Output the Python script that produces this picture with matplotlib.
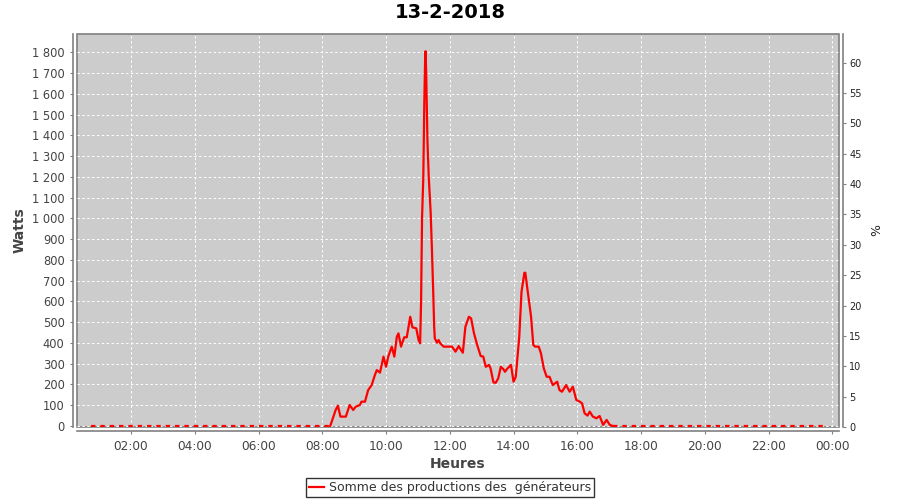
import matplotlib
matplotlib.use("Agg")
import matplotlib.pyplot as plt
from matplotlib.ticker import FixedLocator, FuncFormatter

# ---- data (hours of the day, watts) ----
day_hours = [8.25, 8.42, 8.49, 8.57, 8.74, 8.86, 8.97, 9.05, 9.18, 9.23, 9.34, 9.44, 9.55,
             9.65, 9.71, 9.81, 9.92, 10.0, 10.07, 10.18, 10.26, 10.34, 10.39, 10.47, 10.57,
             10.65, 10.76, 10.83, 10.95, 11.02, 11.07, 11.10, 11.13, 11.17, 11.20, 11.23,
             11.24, 11.26, 11.30, 11.34, 11.40, 11.44, 11.48, 11.51, 11.53, 11.60, 11.65,
             11.70, 11.81, 12.07, 12.18, 12.28, 12.34, 12.41, 12.49, 12.60, 12.67, 12.76,
             12.86, 12.97, 13.05, 13.13, 13.23, 13.28, 13.37, 13.44, 13.52, 13.60, 13.68,
             13.73, 13.81, 13.92, 14.00, 14.07, 14.18, 14.25, 14.34, 14.37, 14.44, 14.55,
             14.62, 14.68, 14.79, 14.86, 14.95, 15.04, 15.13, 15.23, 15.37, 15.44, 15.52,
             15.65, 15.76, 15.86, 15.97, 16.08, 16.15, 16.23, 16.32, 16.39, 16.49, 16.60,
             16.70, 16.81, 16.92, 17.02, 17.12]
day_watts = [0, 77, 98, 45, 45, 101, 77, 93, 101, 117, 117, 173, 197,
             245, 269, 257, 334, 285, 334, 382, 334, 430, 446, 382, 427,
             427, 526, 475, 470, 414, 398, 600, 1000, 1200, 1550, 1790,
             1805, 1700, 1370, 1200, 1030, 850, 650, 480, 422, 401, 414,
             398, 382, 382, 358, 385, 369, 353, 478, 526, 518, 446,
             390, 337, 334, 285, 294, 277, 210, 208, 229, 285, 274,
             261, 277, 294, 213, 237, 430, 646, 738, 738, 654, 526,
             390, 382, 382, 350, 277, 237, 237, 197, 213, 173, 165,
             197, 165, 189, 125, 117, 109, 61, 50, 69, 45, 37,
             48, 5, 29, 5, 0]
night_am_hours = [0.75, 8.25]
night_am_watts = [0, 0]
night_pm_hours = [17.12, 23.75]
night_pm_watts = [0, 0]

x_ticks = [2, 4, 6, 8, 10, 12, 14, 16, 18, 20, 22, 24]
x_labels = ["02:00", "04:00", "06:00", "08:00", "10:00", "12:00", "14:00",
            "16:00", "18:00", "20:00", "22:00", "00:00"]
left_ticks = list(range(0, 1801, 100))
right_ticks = list(range(0, 61, 5))

title = "13-2-2018"
legend_label = "Somme des productions des  générateurs"

# ---- figure ----
plt.rcParams['font.family'] = ['DejaVu Sans']
fig = plt.figure(figsize=(9, 5), dpi=100)
ax = fig.add_axes([77 / 900, 1 - 427 / 500, (839 - 77) / 900, (427 - 34) / 500])
ax.set_facecolor('#CCCCCC')
ax.patch.set_edgecolor('#808080')
ax.patch.set_linewidth(1.2)

red = '#FF0000'
line, = ax.plot(day_hours, day_watts, color=red, lw=1.6, solid_joinstyle='round', zorder=3)
ax.plot(night_am_hours, night_am_watts, color=red, lw=1.6, ls=(0, (2, 2.2)), zorder=3)
ax.plot(night_pm_hours, night_pm_watts, color=red, lw=1.6, ls=(0, (2, 2.2)), zorder=3)

ax.set_xlim(0.306, 24.21)
ax.set_ylim(-5, 1888)

ax.xaxis.set_major_locator(FixedLocator(x_ticks))
ax.set_xticklabels(x_labels)
ax.yaxis.set_major_locator(FixedLocator(left_ticks))
ax.yaxis.set_major_formatter(FuncFormatter(lambda v, p: f"{int(v):,}".replace(",", " ")))

ax.grid(True, color='white', lw=0.7, ls=(0, (2.5, 2.5)))
ax.set_axisbelow(True)

for s in ['top', 'right']:
    ax.spines[s].set_visible(False)
for s in ['left', 'bottom']:
    ax.spines[s].set_position(('outward', 3))
    ax.spines[s].set_color('#808080')
    ax.spines[s].set_linewidth(1.2)

ax.tick_params(axis='both', colors='#808080', labelcolor='#444444', labelsize=8.3,
               length=2.5, width=0.8)
ax.tick_params(axis='x', pad=4, labelsize=8.7)

ax.set_xlabel("Heures", fontsize=10, fontweight='bold', color='#444444', labelpad=3)
ax.set_ylabel("Watts", fontsize=10, fontweight='bold', color='#444444', labelpad=4)

ax2 = ax.twinx()
ax2.set_ylim(0, 64.7)
ax2.yaxis.set_major_locator(FixedLocator(right_ticks))
for s in ['top', 'left', 'bottom']:
    ax2.spines[s].set_visible(False)
ax2.spines['right'].set_position(('outward', 3))
ax2.spines['right'].set_color('#808080')
ax2.spines['right'].set_linewidth(1.2)
ax2.tick_params(axis='y', colors='#808080', labelcolor='#222222', labelsize=7.0,
                length=2.5, width=0.8, pad=2)
ax2.set_ylabel("%", fontsize=9, color='#222222', labelpad=6)

fig.text(0.5, 1 - 13 / 500, title, ha='center', va='center', fontsize=14,
         fontweight='bold', color='black')

leg = fig.legend([line], [legend_label], loc='center', bbox_to_anchor=(0.5, 1 - 487.5 / 500),
                 fontsize=9, frameon=True, fancybox=False, handlelength=1.2,
                 handletextpad=0.4, borderpad=0.25, borderaxespad=0)
leg.get_frame().set_edgecolor('black')
leg.get_frame().set_linewidth(1.0)
for t in leg.get_texts():
    t.set_color('#333333')

fig.savefig("out.png", dpi=100)
